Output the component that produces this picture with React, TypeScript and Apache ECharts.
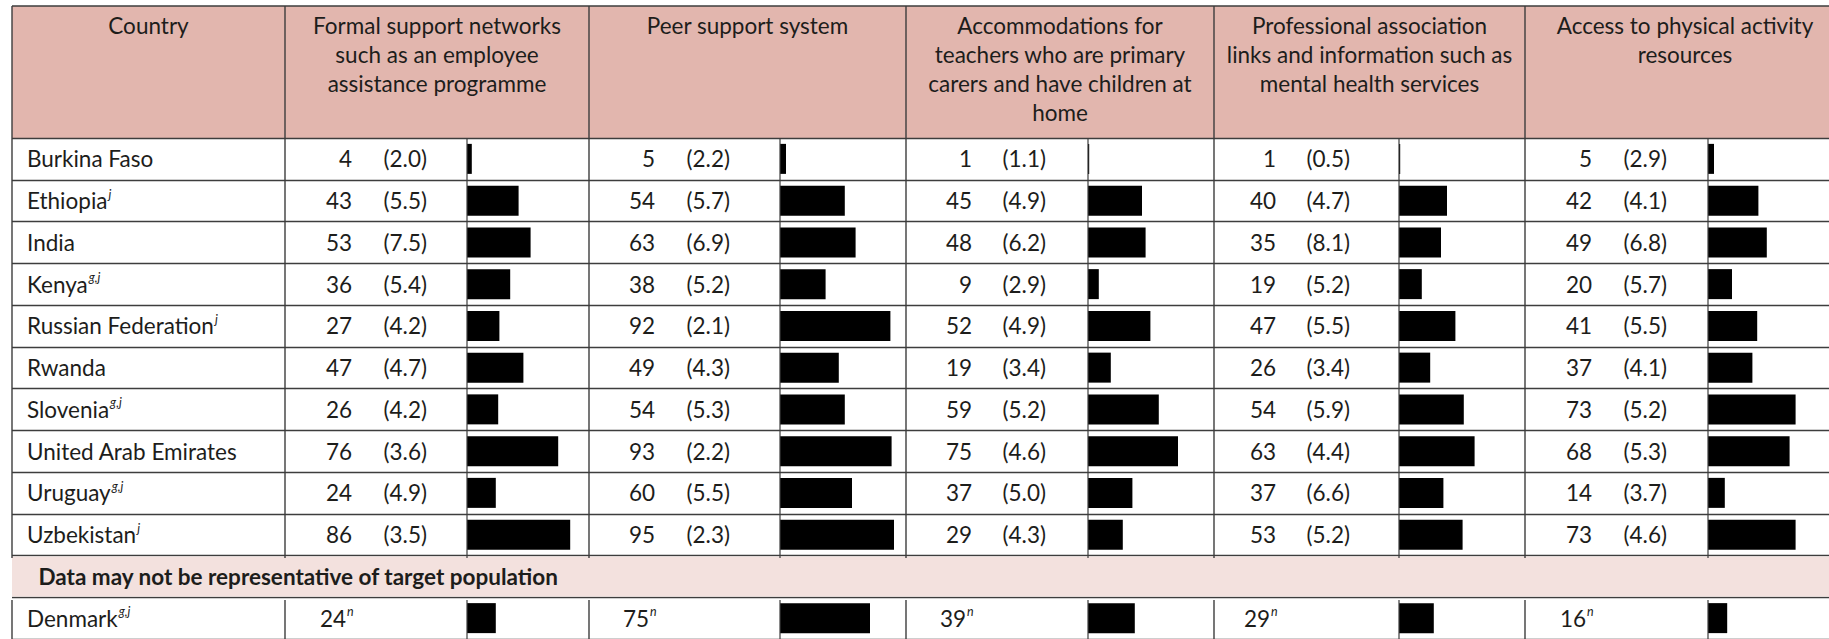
import React, { useEffect, useRef } from 'react';
import * as echarts from 'echarts';

// ---------- data ----------
const countries = [
  'Burkina Faso', 'Ethiopia', 'India', 'Kenya', 'Russian Federation',
  'Rwanda', 'Slovenia', 'United Arab Emirates', 'Uruguay', 'Uzbekistan',
];
const countryNotes = ['', 'j', '', 'g,j', 'j', '', 'g,j', '', 'g,j', 'j'];
const sectionLabel = 'Data may not be representative of target population';
const extraCountries = ['Denmark'];
const extraNotes = ['g,j'];

const headerCountry = 'Country';
const headers = [
  'Formal support networks\nsuch as an employee\nassistance programme',
  'Peer support system',
  'Accommodations for\nteachers who are primary\ncarers and have children at\nhome',
  'Professional association\nlinks and information such as\nmental health services',
  'Access to physical activity\nresources',
];

const formal = [4, 43, 53, 36, 27, 47, 26, 76, 24, 86];
const formalSE = [2.0, 5.5, 7.5, 5.4, 4.2, 4.7, 4.2, 3.6, 4.9, 3.5];
const peer = [5, 54, 63, 38, 92, 49, 54, 93, 60, 95];
const peerSE = [2.2, 5.7, 6.9, 5.2, 2.1, 4.3, 5.3, 2.2, 5.5, 2.3];
const accom = [1, 45, 48, 9, 52, 19, 59, 75, 37, 29];
const accomSE = [1.1, 4.9, 6.2, 2.9, 4.9, 3.4, 5.2, 4.6, 5.0, 4.3];
const prof = [1, 40, 35, 19, 47, 26, 54, 63, 37, 53];
const profSE = [0.5, 4.7, 8.1, 5.2, 5.5, 3.4, 5.9, 4.4, 6.6, 5.2];
const phys = [5, 42, 49, 20, 41, 37, 73, 68, 14, 73];
const physSE = [2.9, 4.1, 6.8, 5.7, 5.5, 4.1, 5.2, 5.3, 3.7, 4.6];

const denmark = [24, 75, 39, 29, 16];
const denmarkValueNote = 'n';

const measures = [formal, peer, accom, prof, phys];
const measureSE = [formalSE, peerSE, accomSE, profSE, physSE];

// ---------- layout ----------
const W = 1829;
const H = 639;
const TOP = 6;
const HEAD_BOTTOM = 138;
const ROW_H = 42;
const colEdges = [12, 285, 589, 906, 1214, 1525, 1845];
const barStarts = [467, 780, 1088, 1399, 1708];
const valueRight = [67, 66, 66, 62, 67]; // offset from column start
const seRight = [142, 141, 140, 136, 142];
const BAR_SPAN = 120; // px for 100%
const FONT = 'Lato';
const FS = 22.5;
const TEXT = '#1d1d1b';
const LINE = '#3d3d3d';
const HEAD_FILL = '#e2b6ae';
const SECTION_FILL = '#f3e1de';

export default function App() {
  const ref = useRef<HTMLDivElement>(null);

  useEffect(() => {
    if (!ref.current) return;
    const chart = echarts.init(ref.current, undefined, { renderer: 'svg' });

    const categories = [...countries, sectionLabel, ...extraCountries];
    const notes = [...countryNotes, '', ...extraNotes];
    const nRows = categories.length;
    const sectionIdx = countries.length;
    const sectionTop = HEAD_BOTTOM + ROW_H * sectionIdx;
    const sectionBottom = sectionTop + ROW_H;
    const tableBottom = HEAD_BOTTOM + ROW_H * nRows;

    const supStyle = {
      fontFamily: FONT, fontSize: 12.5, fontStyle: 'italic', lineHeight: 14,
      verticalAlign: 'top', color: TEXT, padding: [0, 0, 0, 1],
    };

    const grids: any[] = [
      { left: colEdges[0], top: HEAD_BOTTOM, width: 1840 - colEdges[0], height: ROW_H * nRows },
    ];
    const xAxes: any[] = [
      { gridIndex: 0, type: 'value', min: 0, max: 1, show: false },
    ];
    const yAxes: any[] = [
      {
        gridIndex: 0,
        type: 'category',
        inverse: true,
        data: categories,
        axisLine: { show: false },
        axisTick: { show: false },
        splitLine: { show: true, lineStyle: { color: LINE, width: 1.4 } },
        axisLabel: {
          inside: true,
          interval: 0,
          margin: 15,
          color: TEXT,
          fontFamily: FONT,
          fontSize: FS,
          formatter: (value: string, idx: number) => {
            if (idx === sectionIdx) return '';
            const note = notes[idx];
            return `{c|${value}}` + (note ? `{s|${note}}` : '');
          },
          rich: {
            c: { fontFamily: FONT, fontSize: FS, lineHeight: 26, color: TEXT },
            s: supStyle,
          },
        },
      },
    ];

    const series: any[] = [
      {
        type: 'bar',
        xAxisIndex: 0,
        yAxisIndex: 0,
        silent: true,
        barWidth: ROW_H - 2,
        itemStyle: { color: SECTION_FILL },
        data: categories.map((_, i) => (i === sectionIdx ? 1 : '-')),
        z: 3,
        label: {
          show: true,
          position: [26.5, '50%'],
          align: 'left',
          verticalAlign: 'middle',
          fontFamily: FONT,
          fontSize: FS,
          fontWeight: 'bold',
          color: TEXT,
          formatter: (p: any) => p.name,
        },
      },
    ];

    measures.forEach((vals, m) => {
      const gi = m + 1;
      const colStart = colEdges[m + 1];
      const bs = barStarts[m];
      grids.push({ left: bs, top: HEAD_BOTTOM, width: BAR_SPAN, height: ROW_H * nRows });
      xAxes.push({ gridIndex: gi, type: 'value', min: 0, max: 100, show: false });
      yAxes.push({
        gridIndex: gi, type: 'category', inverse: true, data: categories, show: false,
      });
      const se = measureSE[m];
      const data: any[] = vals.map((v) => v);
      data.push('-');
      data.push({
        value: denmark[m],
        label: { position: [colStart + valueRight[m] - 32 - bs, '50%'] },
      });
      const eW = seRight[m] - valueRight[m];
      series.push({
        type: 'bar',
        xAxisIndex: gi,
        yAxisIndex: gi,
        barWidth: 30,
        silent: true,
        itemStyle: { color: '#000000' },
        z: 2,
        label: {
          show: true,
          position: [colStart + valueRight[m] - 40 - bs, '50%'],
          align: 'left',
          verticalAlign: 'middle',
          fontFamily: FONT,
          fontSize: FS,
          color: TEXT,
          formatter: (p: any) => {
            if (p.dataIndex === nRows - 1) return `{d|${p.value}}{n|${denmarkValueNote}}`;
            return `{v|${p.value}}{e|(${se[p.dataIndex].toFixed(1)})}`;
          },
          rich: {
            v: { fontFamily: FONT, fontSize: FS, lineHeight: 26, width: 40, align: 'right', color: TEXT },
            e: { fontFamily: FONT, fontSize: FS, lineHeight: 26, width: eW, align: 'right', color: TEXT },
            d: { fontFamily: FONT, fontSize: FS, lineHeight: 26, color: TEXT },
            n: supStyle,
          },
        },
        data,
      });
    });

    // graphics: header band, header texts, cell borders
    const graphics: any[] = [];
    graphics.push({
      type: 'rect',
      z: 0,
      shape: { x: colEdges[0], y: TOP, width: 1840 - colEdges[0], height: HEAD_BOTTOM - TOP },
      style: { fill: HEAD_FILL },
    });
    const headTexts = [headerCountry, ...headers];
    headTexts.forEach((t, i) => {
      graphics.push({
        type: 'text',
        z: 5,
        style: {
          text: t,
          x: (colEdges[i] + colEdges[i + 1]) / 2,
          y: TOP + 5,
          align: 'center',
          verticalAlign: 'top',
          fontFamily: FONT,
          fontSize: FS,
          lineHeight: 29,
          fill: TEXT,
        },
      });
    });
    // top border
    graphics.push({
      type: 'line', z: 6,
      shape: { x1: colEdges[0], y1: TOP, x2: 1840, y2: TOP },
      style: { stroke: LINE, lineWidth: 1.4 },
    });
    // column borders
    colEdges.slice(0, 6).forEach((x) => {
      graphics.push({
        type: 'line', z: 6,
        shape: { x1: x, y1: TOP, x2: x, y2: sectionTop },
        style: { stroke: LINE, lineWidth: 1.4 },
      });
      graphics.push({
        type: 'line', z: 6,
        shape: { x1: x, y1: sectionBottom, x2: x, y2: tableBottom },
        style: { stroke: LINE, lineWidth: 1.4 },
      });
    });
    // divider between number cell and bar cell
    barStarts.forEach((x) => {
      graphics.push({
        type: 'line', z: 6,
        shape: { x1: x, y1: HEAD_BOTTOM, x2: x, y2: sectionTop },
        style: { stroke: LINE, lineWidth: 1.2 },
      });
      graphics.push({
        type: 'line', z: 6,
        shape: { x1: x, y1: sectionBottom, x2: x, y2: tableBottom },
        style: { stroke: LINE, lineWidth: 1.2 },
      });
    });

    chart.setOption({
      animation: false,
      backgroundColor: '#ffffff',
      textStyle: { fontFamily: FONT },
      grid: grids,
      xAxis: xAxes,
      yAxis: yAxes,
      series,
      graphic: { elements: graphics },
    });

    return () => chart.dispose();
  }, []);

  return (
    <div
      ref={ref}
      style={{ position: 'absolute', left: 0, top: 0, width: W, height: H, background: '#fff' }}
    />
  );
}
